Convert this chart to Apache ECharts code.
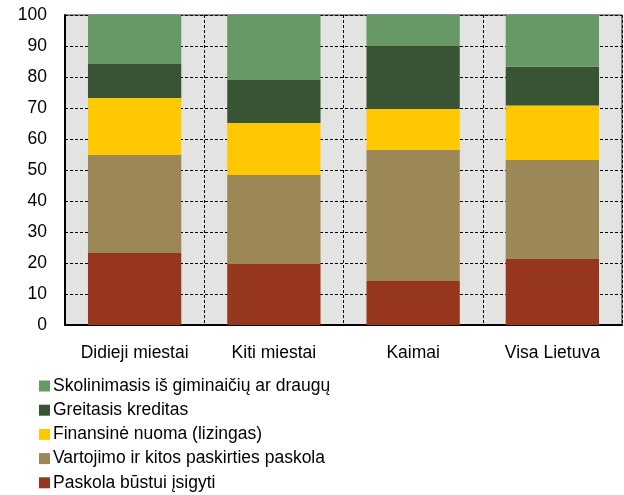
<!DOCTYPE html>
<html>
<head>
<meta charset="utf-8">
<script src="https://cdn.jsdelivr.net/npm/echarts@6/dist/echarts.min.js"></script>
<style>
  html, body { margin: 0; padding: 0; background: #fff; }
</style>
</head>
<body>
<div id="chart" style="width:624px;height:495px;"></div>
<script>
const categories = ['Didieji miestai', 'Kiti miestai', 'Kaimai', 'Visa Lietuva']
const yTicks = [0, 10, 20, 30, 40, 50, 60, 70, 80, 90, 100]

const paskola = [23.2, 19.7, 14.2, 21.3]
const vartojimo = [31.6, 28.7, 42.3, 31.9]
const finansine = [18.4, 16.8, 13.2, 17.6]
const greitasis = [11.0, 13.8, 20.3, 12.5]
const skolinimasis = [15.8, 21.0, 10.0, 16.7]

const seriesNames = [
    'Paskola būstui įsigyti',
    'Vartojimo ir kitos paskirties paskola',
    'Finansinė nuoma (lizingas)',
    'Greitasis kreditas',
    'Skolinimasis iš giminaičių ar draugų'
]
const seriesData = [paskola, vartojimo, finansine, greitasis, skolinimasis]
const colors = ['#96361e', '#9b8856', '#ffc800', '#385435', '#669966']

let myChart = echarts.init(document.getElementById('chart'))

var option = {
    animation: false,
    textStyle: {
        fontFamily: 'Liberation Sans, Arial, sans-serif'
    },
    grid: {
        left: 65,
        right: 2,
        top: 15,
        bottom: 170,
        show: true,
        backgroundColor: '#e3e4e2',
        borderColor: '#222',
        borderWidth: 1
    },
    legend: {
        orient: 'vertical',
        left: 39,
        top: 377,
        height: 118,
        padding: 0,
        itemWidth: 11,
        itemHeight: 11,
        itemGap: 6.2,
        icon: 'rect',
        data: seriesNames.slice().reverse(),
        textStyle: {
            fontSize: 17.5,
            color: '#000',
            lineHeight: 18,
            padding: [0, 0, 0, -2]
        }
    },
    xAxis: {
        type: 'category',
        data: categories,
        axisLine: { lineStyle: { color: '#000', width: 2 } },
        axisTick: { show: false },
        axisLabel: { fontSize: 17.5, color: '#000', margin: 19, interval: 0 },
        splitLine: {
            show: true,
            interval: 0,
            lineStyle: { color: '#000', type: [3, 2], width: 1 }
        }
    },
    yAxis: {
        type: 'value',
        min: yTicks[0],
        max: yTicks[yTicks.length - 1],
        interval: 10,
        axisLine: { show: true, lineStyle: { color: '#000', width: 2 } },
        axisTick: { show: false },
        axisLabel: { fontSize: 17.5, color: '#000', margin: 18 },
        splitLine: {
            lineStyle: { color: '#000', type: [3, 2], width: 1 }
        }
    },
    series: seriesNames.map((name, i) => ({
        name: name,
        type: 'bar',
        stack: 'total',
        barWidth: '67%',
        data: seriesData[i],
        itemStyle: { color: colors[i] }
    }))
}

myChart.setOption(option)

window.addEventListener('resize', () => {
    myChart.resize()
})
</script>
</body>
</html>
